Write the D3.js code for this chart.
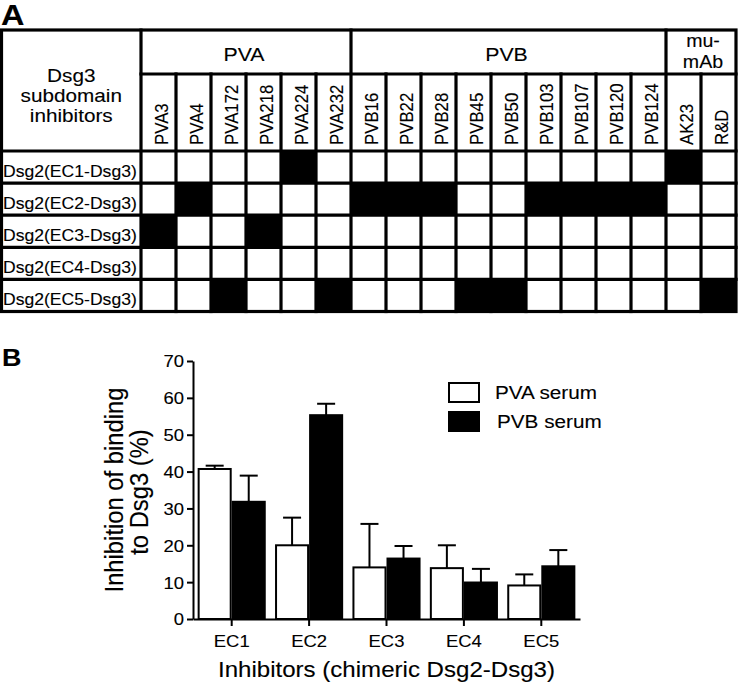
<!DOCTYPE html>
<html><head><meta charset="utf-8">
<script src="https://cdn.jsdelivr.net/npm/d3@7"></script>
<style>
body{margin:0;background:#fff}
svg text{font-family:"Liberation Sans",Arial,Helvetica,sans-serif;fill:#000;stroke:#000;stroke-width:0.12px}
</style>
</head><body>
<svg id="c" width="738" height="687"></svg>
<script>
// ---------- Data (panel A) ----------
const rowLabels = ["Dsg2(EC1-Dsg3)","Dsg2(EC2-Dsg3)","Dsg2(EC3-Dsg3)","Dsg2(EC4-Dsg3)","Dsg2(EC5-Dsg3)"];
const columnLabels = ["PVA3","PVA4","PVA172","PVA218","PVA224","PVA232",
  "PVB16","PVB22","PVB28","PVB45","PVB50","PVB103","PVB107","PVB120","PVB124",
  "AK23","R&D"];
const groupNames = ["PVA","PVB","mu-mAb"];
const groupSizes = [6, 9, 2];
const cornerTitle = ["Dsg3","subdomain","inhibitors"];
// 1 = blocked (black cell)
const blockMatrix = [
  [0,0,0,0,1,0, 0,0,0,0,0,0,0,0,0, 1,0],
  [0,1,0,0,0,0, 1,1,1,0,0,1,1,1,1, 0,0],
  [1,0,0,1,0,0, 0,0,0,0,0,0,0,0,0, 0,0],
  [0,0,0,0,0,0, 0,0,0,0,0,0,0,0,0, 0,0],
  [0,0,1,0,0,1, 0,0,0,1,1,0,0,0,0, 0,1]
];
// ---------- Data (panel B) ----------
const categories = ["EC1","EC2","EC3","EC4","EC5"];
const seriesNames = ["PVA serum","PVB serum"];
const pvaMean = [40.7, 20.0, 14.0, 13.8, 9.1];
const pvaErr  = [0.9, 7.5, 11.8, 6.2, 3.0];
const pvbMean = [31.8, 55.3, 16.4, 9.9, 14.3];
const pvbErr  = [7.1, 3.1, 3.4, 3.7, 4.4];
const yTicks = [0,10,20,30,40,50,60,70];

const SX = 1.12; // horizontal glyph stretch of the source image
const svg = d3.select("#c");

function txt(g, s, x, y, size, opts={}) {
  const t = g.append("text")
    .attr("transform", `translate(${x},${y}) scale(${SX},1)` + (opts.rot ? ` rotate(${opts.rot})` : ""))
    .attr("font-size", size)
    .attr("text-anchor", opts.anchor || "start")
    .text(s);
  if (opts.weight) t.attr("font-weight", opts.weight);
  if (opts.dy) t.attr("dy", opts.dy);
  return t;
}

// ================= Panel A =================
const A = svg.append("g");
txt(A, "A", 1, 25, 29, {weight: "bold"});

const tLeft = 1.5, tRight = 736, tTop = 30, gBottom = 74, hBottom = 151, tBottom = 311.5, firstCol = 141;
const xCol = d3.scaleBand().domain(d3.range(columnLabels.length)).range([firstCol, tRight]);
const yRow = d3.scaleBand().domain(d3.range(rowLabels.length)).range([hBottom, tBottom]);

// black cells
blockMatrix.forEach((row, r) => row.forEach((v, c) => {
  if (v) A.append("rect").attr("x", xCol(c)).attr("y", yRow(r))
    .attr("width", xCol.bandwidth()).attr("height", yRow.bandwidth()).attr("fill", "#000");
}));

const lw = 3.2;
function line(x1,y1,x2,y2){ A.append("line").attr("x1",x1).attr("y1",y1).attr("x2",x2).attr("y2",y2)
  .attr("stroke","#000").attr("stroke-width",lw).attr("stroke-linecap","square"); }

A.append("rect").attr("x", tLeft).attr("y", tTop).attr("width", tRight - tLeft).attr("height", tBottom - tTop)
  .attr("fill", "none").attr("stroke", "#000").attr("stroke-width", lw);
line(firstCol, tTop, firstCol, tBottom);
line(firstCol, gBottom, tRight, gBottom);
line(tLeft, hBottom, tRight, hBottom);
d3.range(1, rowLabels.length).forEach(r => line(tLeft, yRow(r), tRight, yRow(r)));
let cum = 0;
const groupStarts = groupSizes.map(n => { const s = cum; cum += n; return s; });
d3.range(1, columnLabels.length).forEach(c => {
  const isGroup = groupStarts.includes(c);
  line(xCol(c), isGroup ? tTop : gBottom, xCol(c), tBottom);
});

// group headers
groupNames.forEach((g, i) => {
  const s = groupStarts[i], e = s + groupSizes[i];
  const cx = (xCol(s) + (xCol(e - 1) + xCol.bandwidth())) / 2;
  if (g === "mu-mAb") {
    txt(A, "mu-", cx + 2, 47, 17.5, {anchor: "middle"});
    txt(A, "mAb", cx + 2, 68, 17.5, {anchor: "middle"});
  } else {
    txt(A, g, cx - 2, 61, 19, {anchor: "middle"});
  }
});
// corner title
cornerTitle.forEach((s, i) => txt(A, s, (tLeft + firstCol) / 2, 82 + i * 20, 18.5, {anchor: "middle"}));
// rotated column labels
columnLabels.forEach((s, c) => {
  txt(A, s, xCol(c) + xCol.bandwidth() / 2 + 2.5, 145, 16.8, {rot: -90, dy: "0.36em"});
});
// row labels
rowLabels.forEach((s, r) => txt(A, s, 3, yRow(r) + 25.5, 15.7));

// ================= Panel B =================
const B = svg.append("g");
txt(B, "B", 2, 366, 24, {weight: "bold"});

const x0 = 193, x1 = 580, y0 = 619, y70 = 361;
const x = d3.scaleBand().domain(categories).range([x0, x1]).paddingInner(0.12).paddingOuter(0.06);
const xs = d3.scaleBand().domain(seriesNames).range([0, x.bandwidth()]);
const y = d3.scaleLinear().domain([0, 70]).range([y0, y70]);

const barData = [];
categories.forEach((c, i) => {
  barData.push({cat: c, s: seriesNames[0], v: pvaMean[i], e: pvaErr[i], fill: "#fff"});
  barData.push({cat: c, s: seriesNames[1], v: pvbMean[i], e: pvbErr[i], fill: "#000"});
});

// error bars
const capW = 18;
barData.forEach(d => {
  const cx = x(d.cat) + xs(d.s) + xs.bandwidth() / 2;
  B.append("line").attr("x1", cx).attr("x2", cx).attr("y1", y(d.v)).attr("y2", y(d.v + d.e))
    .attr("stroke", "#000").attr("stroke-width", 2);
  B.append("line").attr("x1", cx - capW / 2).attr("x2", cx + capW / 2).attr("y1", y(d.v + d.e)).attr("y2", y(d.v + d.e))
    .attr("stroke", "#000").attr("stroke-width", 2);
});
// bars
B.selectAll("rect.bar").data(barData).enter().append("rect").attr("class", "bar")
  .attr("x", d => x(d.cat) + xs(d.s) + 1)
  .attr("width", xs.bandwidth() - 2)
  .attr("y", d => y(d.v))
  .attr("height", d => y0 - y(d.v))
  .attr("fill", d => d.fill)
  .attr("stroke", "#000").attr("stroke-width", 2);

// y axis
const yAxis = B.append("g").attr("transform", `translate(${x0},0)`)
  .call(d3.axisLeft(y).tickValues(yTicks).tickSize(6).tickSizeOuter(0).tickPadding(3));
yAxis.select(".domain").attr("stroke-width", 2);
yAxis.selectAll(".tick line").attr("stroke-width", 2);
yAxis.selectAll(".tick text").attr("font-size", 16.5).attr("font-family", null)
  .attr("x", -9 / SX).attr("transform", `scale(${SX},1)`).attr("dy", "0.36em");

// x axis
const xAxis = B.append("g").attr("transform", `translate(0,${y0})`)
  .call(d3.axisBottom(x).tickSize(7).tickSizeOuter(0).tickPadding(9));
xAxis.select(".domain").attr("stroke-width", 2);
xAxis.selectAll(".tick line").attr("stroke-width", 2);
xAxis.selectAll(".tick text").attr("font-size", 16.5).attr("font-family", null)
  .attr("transform", `scale(${SX},1)`);

// axis titles
txt(B, "Inhibition of binding", 123, 490, 23.8, {rot: -90, anchor: "middle"});
txt(B, "to Dsg3 (%)", 148, 492, 23.8, {rot: -90, anchor: "middle"});
txt(B, "Inhibitors (chimeric Dsg2-Dsg3)", (x0 + x1) / 2, 677, 21.5, {anchor: "middle"});

// legend
const legY = [383, 412];
seriesNames.forEach((s, i) => {
  B.append("rect").attr("x", 449).attr("y", legY[i]).attr("width", 30).attr("height", 19)
    .attr("fill", i ? "#000" : "#fff").attr("stroke", "#000").attr("stroke-width", 2);
  txt(B, s, 495 + i * 2, legY[i] + 16, 18.5);
});
</script>
</body></html>
